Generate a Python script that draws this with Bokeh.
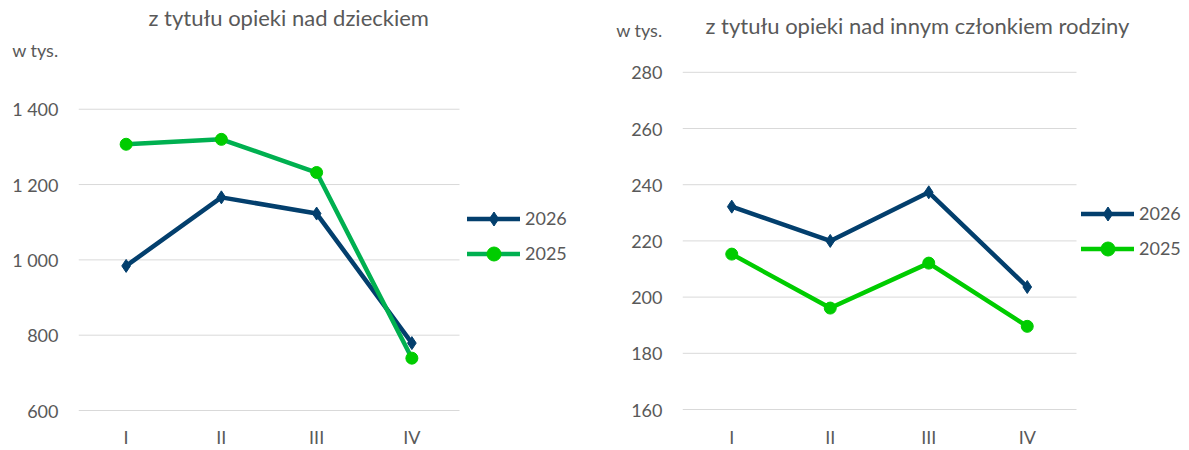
from bokeh.plotting import figure
from bokeh.models import Range1d, FixedTicker, Legend, LegendItem, Label
from bokeh.layouts import row
from bokeh.embed import file_html
from bokeh.resources import INLINE

categories = ["I", "II", "III", "IV"]
series_names = ["2026", "2025"]

child_2026 = [984, 1166, 1123, 779]
child_2025 = [1307, 1320, 1232, 739]
family_2026 = [232.2, 220.0, 237.3, 203.6]
family_2025 = [215.3, 196.1, 212.1, 189.6]

left_ticks = [600, 800, 1000, 1200, 1400]
left_tick_labels = ["600", "800", "1 000", "1 200", "1 400"]
right_ticks = [160, 180, 200, 220, 240, 260, 280]
right_tick_labels = ["160", "180", "200", "220", "240", "260", "280"]

left_title = "z tytułu opieki nad dzieckiem"
right_title = "z tytułu opieki nad innym członkiem rodziny"
unit_label = "w tys."

FONT = "Lato"
TXT = "#595959"
BLUE = "#033F6D"
GREEN_LINE_L = "#00B050"
GREEN_PT = "#00CC00"
GRID = "#D9D9D9"

# category slots on a numeric axis: slot i is centred at i + 0.5
x_pos = [i + 0.5 for i in range(len(categories))]


def make_chart(ticks, labels, yr, x_end, unit_at, s26, s25, green_line, w, mbl,
               title, tx, ty, lx, ly):
    p = figure(x_range=Range1d(0, x_end), y_range=Range1d(*yr),
               width=w, height=450,
               min_border_left=mbl, min_border_right=0,
               min_border_top=0, min_border_bottom=36,
               output_backend="svg", toolbar_location=None)
    p.outline_line_color = None
    p.background_fill_color = "white"
    p.border_fill_color = "white"
    p.xgrid.grid_line_color = None
    p.ygrid.grid_line_color = None

    # horizontal value gridlines spanning the category slots only
    p.segment(x0=[0] * len(ticks), x1=[len(categories)] * len(ticks), y0=ticks, y1=ticks,
              line_color=GRID, line_width=1)

    # y axis: value ticks plus the unit caption on top of them
    p.yaxis.ticker = FixedTicker(ticks=ticks + [unit_at])
    overrides = {t: l for t, l in zip(ticks, labels)}
    overrides[unit_at] = unit_label
    p.yaxis.major_label_overrides = overrides
    p.xaxis.ticker = FixedTicker(ticks=x_pos)
    p.xaxis.major_label_overrides = {x: c for x, c in zip(x_pos, categories)}
    for ax in (p.xaxis, p.yaxis):
        ax.axis_line_color = None
        ax.major_tick_line_color = None
        ax.minor_tick_line_color = None
        ax.major_tick_out = 0
        ax.major_tick_in = 0
        ax.minor_tick_out = 0
        ax.major_label_text_font = FONT
        ax.major_label_text_font_size = "18px"
        ax.major_label_text_color = TXT
    p.yaxis.major_label_standoff = 20
    p.xaxis.major_label_standoff = 12

    l26 = p.line(x_pos, s26, line_color=BLUE, line_width=4.5,
                 line_join="round", line_cap="round")
    m26 = p.scatter(x_pos, s26, marker="diamond", size=13, fill_color=BLUE, line_color=BLUE)
    l25 = p.line(x_pos, s25, line_color=green_line, line_width=4.5,
                 line_join="round", line_cap="round")
    m25 = p.scatter(x_pos, s25, marker="circle", size=12, fill_color=GREEN_PT, line_color=GREEN_PT)

    legend = Legend(items=[LegendItem(label=series_names[0], renderers=[l26, m26]),
                           LegendItem(label=series_names[1], renderers=[l25, m25])],
                    location=(lx, ly), orientation="vertical",
                    padding=0, margin=0, spacing=0,
                    glyph_width=53, glyph_height=35, label_height=35,
                    label_standoff=5,
                    label_text_font=FONT, label_text_font_size="18px",
                    label_text_color=TXT, label_text_baseline="middle",
                    border_line_color=None, background_fill_alpha=0)
    p.add_layout(legend, "center")

    p.add_layout(Label(x=tx, y=ty, x_units="screen", y_units="screen", text=title,
                       text_align="left", text_baseline="middle",
                       text_font=FONT, text_font_size="22px", text_color=TXT))
    return p


p1 = make_chart(left_ticks, left_tick_labels, (592.05, 1688.74), 518 / 95.25, 1556.3,
                child_2026, child_2025, GREEN_LINE_L, w=596, mbl=78,
                title=left_title, tx=70, ty=396, lx=389, ly=142.5)
p2 = make_chart(right_ticks, right_tick_labels, (158.58, 305.56), 507 / 98.5, 294.9,
                family_2026, family_2025, GREEN_PT, w=593, mbl=86,
                title=right_title, tx=23, ty=388, lx=399, ly=147.5)

layout = row(p1, p2)
open("out.html", "w").write(file_html(layout, INLINE))
